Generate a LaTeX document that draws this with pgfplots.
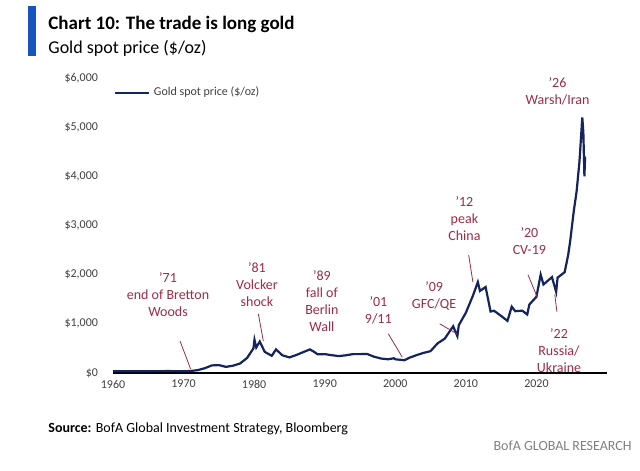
\documentclass[border=0pt]{standalone}
\usepackage{pgfplots}
\pgfplotsset{compat=1.18}
\usepackage{fontspec}
\setmainfont{Carlito}
\definecolor{navy}{HTML}{14245E}
\definecolor{ann}{HTML}{9E2B45}
\definecolor{bofablue}{HTML}{1455C0}
\begin{document}
\begin{tikzpicture}[x=1pt,y=1pt]
\fill[white] (0,0) rectangle (320,235);
\fill[bofablue] (14,207) rectangle (18,232);
\node[anchor=base west,inner sep=0,font=\fontsize{9.5}{12}\selectfont\bfseries] at (24,220) {Chart 10: The trade is long gold};
\node[anchor=base west,inner sep=0,font=\fontsize{9}{12}\selectfont] at (24,208) {Gold spot price (\$/oz)};
\node[anchor=base west,inner sep=0,font=\fontsize{7}{9}\selectfont] at (24,19) {\textbf{Source:} BofA Global Investment Strategy, Bloomberg};
\node[anchor=base east,inner sep=0,font=\fontsize{7}{9}\selectfont,text=gray] at (316,10) {BofA GLOBAL RESEARCH};
\begin{axis}[name=ax,at={(56.5pt,48.5pt)},anchor=south west,scale only axis,
 width=247pt,height=147.5pt,xmin=1960,xmax=2030,ymin=0,ymax=6000,
 axis x line*=bottom,axis y line*=left,
 y axis line style={draw=none},
 xtick={1960,1970,...,2020},ytick={0,1000,...,6000},
 xticklabel style={/pgf/number format/1000 sep=},
 yticklabels={{\$0},{\$1,000},{\$2,000},{\$3,000},{\$4,000},{\$5,000},{\$6,000}},
 yticklabel style={xshift=-4pt},
 /pgf/number format/assume math mode=true,
 tick label style={font=\fontsize{6}{8}\selectfont,text=black!75},
 tick style={draw=none},
 x axis line style={-,black,line width=0.8pt},
 clip=false,
 legend style={at={(0.0,0.95)},anchor=west,draw=none,fill=none,font=\fontsize{6}{8}\selectfont,text=black!75,inner sep=0pt},
 legend image post style={line width=1.2pt}
]
\addplot[navy,line width=1.1pt] coordinates {
(1960,35)(1968,39)(1970,36)(1971,41)(1972,58)(1973,97)(1974,154)(1975,161)(1976,125)(1977,148)(1978,193)(1979,306)(1979.9,500)(1980.05,675)(1980.3,520)(1980.8,640)(1981.5,430)(1982.5,350)(1983.1,480)(1984,360)(1985,317)(1986,368)(1987.9,480)(1988.5,430)(1989,380)(1990,384)(1991,362)(1992,344)(1993,360)(1994,384)(1995,384)(1996,388)(1997,331)(1998,294)(1999,279)(1999.8,300)(2000,279)(2001.3,260)(2002,310)(2003,363)(2004,409)(2005,445)(2006,604)(2007,697)(2008.2,950)(2008.8,750)(2009,972)(2010,1225)(2011,1572)(2011.7,1850)(2012,1669)(2012.8,1750)(2013.5,1250)(2014,1266)(2015,1160)(2015.9,1060)(2016.5,1350)(2017,1257)(2018,1268)(2018.7,1190)(2019,1393)(2020,1550)(2020.6,2000)(2021,1800)(2022.2,1950)(2022.8,1650)(2023,1940)(2024,2050)(2024.5,2400)(2024.8,2700)(2025.3,3300)(2025.7,3700)(2026.1,4300)(2026.5,5200)(2026.65,4900)(2026.75,4300)(2026.8,4000)(2026.9,4400)};
\addlegendentry{Gold spot price (\$/oz)}
\begin{scope}[every node/.style={text=ann,font=\fontsize{7}{8.5}\selectfont,align=center,inner sep=1pt}]
\node[anchor=south] at (axis cs:1967.8,1100) {'71\\end of Bretton\\Woods};
\draw[ann,thin] (axis cs:1969.5,650)--(axis cs:1971,80);
\node[anchor=south] at (axis cs:1980.4,1300) {'81\\Volcker\\shock};
\draw[ann,thin] (axis cs:1980.6,1200)--(axis cs:1981.3,650);
\node[anchor=south] at (axis cs:1989.6,800) {'89\\fall of\\Berlin\\Wall};
\node[anchor=south] at (axis cs:1997.6,950) {'01\\9/11};
\draw[ann,thin] (axis cs:1999,800)--(axis cs:2001,320);
\node[anchor=south] at (axis cs:2005.5,1230) {'09\\GFC/QE};
\draw[ann,thin] (axis cs:2006.3,1000)--(axis cs:2008.7,800);
\node[anchor=south] at (axis cs:2009.8,2650) {'12\\peak\\China};
\draw[ann,thin] (axis cs:2010.4,2400)--(axis cs:2011,1850);
\node[anchor=south] at (axis cs:2019,2350) {'20\\CV-19};
\draw[ann,thin] (axis cs:2018.8,2000)--(axis cs:2020.1,1550);
\node[anchor=north] at (axis cs:2023.2,950) {'22\\Russia/\\Ukraine};
\draw[ann,thin] (axis cs:2022.6,1600)--(axis cs:2022.9,1250);
\node[anchor=south] at (axis cs:2023,5400) {'26\\Warsh/Iran};
\end{scope}
\end{axis}
\useasboundingbox (0,0) rectangle (320,235);
\end{tikzpicture}
\end{document}
